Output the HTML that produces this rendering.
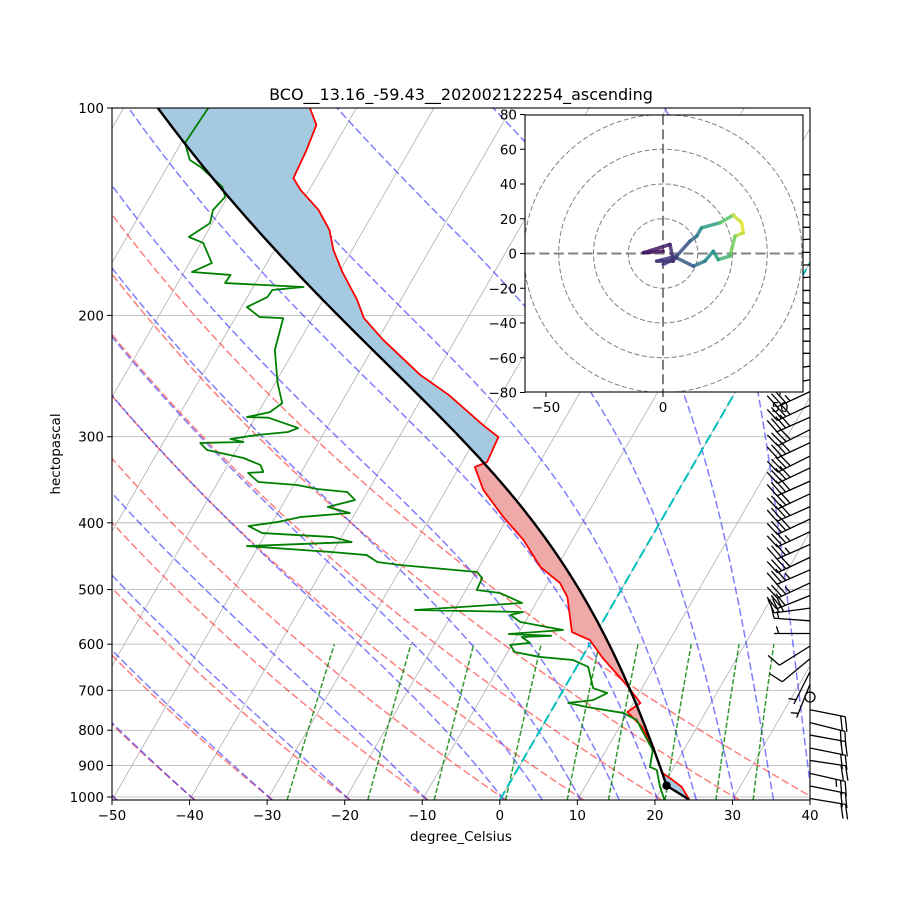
<!DOCTYPE html>
<html><head><meta charset="utf-8"><style>
html,body{margin:0;padding:0;background:#fff}
svg{display:block;font-family:"DejaVu Sans","Liberation Sans",sans-serif}
</style></head><body>
<svg id="chart" width="900" height="900" viewBox="0 0 900 900" xmlns="http://www.w3.org/2000/svg">
<defs>
<clipPath id="plotclip"><rect x="112" y="108" width="698" height="692"/></clipPath>
<clipPath id="hodoclip"><rect x="525" y="115" width="278" height="277"/></clipPath>
</defs>
<rect x="0" y="0" width="900" height="900" fill="#fff"/>
<g id="grid" clip-path="url(#plotclip)"></g>
<g id="bg" clip-path="url(#plotclip)"></g>
<g id="fills" clip-path="url(#plotclip)"></g>
<g id="profiles" clip-path="url(#plotclip)"></g>
<g id="barbs"></g>
<rect x="112" y="108" width="698" height="692" fill="none" stroke="#000" stroke-width="1.1"/>
<g id="axes"></g>
<text x="461" y="100" text-anchor="middle" font-size="16">BCO__13.16_-59.43__202002122254_ascending</text>
<text x="461" y="841" text-anchor="middle" font-size="13.5">degree_Celsius</text>
<text x="60" y="454" text-anchor="middle" font-size="13.5" transform="rotate(-90 60 454)">hectopascal</text>
<g id="hodo"></g>
</svg>
<script>
// ---- data ----
const tempP=[100,105.8,115.1,126.4,131.5,140.6,150.3,160.7,173,190,201.8,217,244,261,288.4,300.3,326.5,332,358.4,392.4,423.6,463.7,489.1,512.5,576.2,591.8,628.5,687.9,730.3,752.6,791.3,846.2,923.2,944.9,967.2,1009];
const tempT=[-76,-73.9,-73.3,-72.9,-71.1,-67.3,-64.4,-62.4,-59.6,-55.6,-53.4,-49.3,-41.9,-36.7,-30.1,-27.2,-26.8,-28.0,-25.2,-20.6,-16.3,-12.1,-8.4,-6.4,-3.2,-0.3,2.7,7.8,10.9,9.9,12.9,15.8,19.0,20.8,22.5,24.4];
const dewP=[100,112.4,119,121.8,130.2,134.6,140.6,146.9,153.9,157,167.9,173,174.7,179.5,181.9,183.7,188.1,194.5,201.1,201.8,224.5,250.6,268.1,276.3,280.9,281.5,288.5,291.4,295.3,298.3,302.3,305.3,306.3,313.6,322.1,329.7,337.5,338.6,349,352.5,357.3,360.8,370.6,379.4,387.1,392.4,399,404.4,413.9,419.5,426.6,432.3,441.1,445.5,456,460.6,471.5,481,500.7,505.7,522.9,535.3,538.9,544.3,557.2,572.3,580,583.5,585.9,597.6,601.6,615.9,626.2,632.6,647.5,694.9,706.7,723.4,730.3,740.2,755.1,773,799.4,854.7,904.5,913.4,967.2,1009];
const dewT=[-89.1,-89.5,-87.6,-85.7,-81.4,-80.3,-80.9,-80.3,-82.0,-79.7,-77.1,-79.0,-73.8,-73.9,-63.5,-67.3,-67.4,-69.3,-66.9,-63.8,-62.5,-59.7,-57.6,-58.5,-61.1,-58.3,-55.0,-53.7,-54.7,-58.5,-61.6,-59.7,-65.2,-63.8,-58.5,-55.8,-54.9,-56.8,-54.8,-49.6,-46.7,-42.6,-41.0,-44.0,-40.7,-46.8,-49.4,-52.8,-50.5,-41.1,-38.3,-51.5,-40.0,-35.4,-33.5,-30.4,-19.9,-18.8,-18.6,-15.4,-11.8,-25.1,-11.0,-12.4,-10.6,-4.5,-11.2,-5.6,-9.3,-7.8,-10.2,-9.1,-5.5,-1.0,1.5,3.7,5.9,4.6,1.6,4.3,9.4,11.7,13.1,16.0,16.9,18.0,19.7,21.2];
const barbP=[125,131,137,143,149,155,162,169,176,184,192,200,209,218,227,237,248,258,270,281,293,306,320,333,348,363,379,395,412,430,449,468,489,510,532,555,579,604,630,658,686,716,747,780,813,849,885,924,964,1005];
const barbU=[28,30,30,32,30,28,30,32,30,28,30,30,28,26,28,30,32,30,34,36,36,34,36,38,36,34,36,34,32,34,34,32,30,30,30,14,5,8,6,3,2,0,-20,-20,-22,-20,-20,-22,-20,-18];
const barbV=[0,2,0,-2,0,2,0,0,2,0,-2,0,2,0,0,4,6,14,16,16,18,16,18,18,16,16,16,16,15,15,16,14,14,12,4,-1,0,5,5,6,5,0,4,5,4,4,3,5,4,3];
const hodoU=[0.1,-8.4,3.0,4.4,-2.7,5.8,11.5,14.4,16.5,24.4,30.0,33.6,34.3,30.8,28.6,23.6,21.5,17.9,13.0,5.8,0.1];
const hodoV=[1.3,0.4,5.2,-4.4,-4.4,-1.5,7.1,10.0,14.8,17.7,22.1,17.7,11.9,10.0,-1.5,-3.5,1.3,-4.4,-7.3,-2.5,-6.3];
const hodoC=[0,0.05,0.1,0.15,0.15,0.2,0.3,0.35,0.5,0.6,0.85,1.0,0.95,0.85,0.7,0.6,0.5,0.45,0.35,0.2,0.1];
const xTicks=[-50,-40,-30,-20,-10,0,10,20,30,40];
const yTicks=[100,200,300,400,500,600,700,800,900,1000];
const hodoTicksX=[-50,0,50];
const hodoTicksY=[-80,-60,-40,-20,0,20,40,60,80];

// ---- helpers ----
const NS="http://www.w3.org/2000/svg";
const PBOT=1010.08, PTOP=100;
function yOf(p){return 108+689*Math.log10(p/100);}
function xOf(T,p){return 112+(T+50)*7.756+0.57735*(800-yOf(p));}
function mk(tag,attrs,parent){const e=document.createElementNS(NS,tag);for(const k in attrs)e.setAttribute(k,attrs[k]);parent.appendChild(e);return e;}
function pathFrom(pts){return pts.map((q,i)=>(i?'L':'M')+q[0].toFixed(2)+' '+q[1].toFixed(2)).join(' ');}
const Rd=287.04749,Lv=2.50084e6,Cp=1004.6662,EPS=0.622;
function dTdp(p,T){const Tc=T-273.15;const es=6.112*Math.exp(17.67*Tc/(Tc+243.5));const rs=EPS*es/(p-es);return (1/p)*(Rd*T+Lv*rs)/(Cp+(Lv*Lv*rs*EPS/(Rd*T*T)));}
function moist(TK,p0,p1,n){const pts=[[p0,TK]];let p=p0,T=TK;const h=(p1-p0)/n;for(let i=0;i<n;i++){const k1=dTdp(p,T),k2=dTdp(p+h/2,T+h/2*k1),k3=dTdp(p+h/2,T+h/2*k2),k4=dTdp(p+h,T+h*k3);T+=h/6*(k1+2*k2+2*k3+k4);p+=h;pts.push([p,T]);}return pts;}
function interp(p,P,T){const lp=Math.log(p);if(p<=P[0])return T[0];for(let i=1;i<P.length;i++){if(P[i]>=p){const a=Math.log(P[i-1]),b=Math.log(P[i]);const f=b===a?0:(lp-a)/(b-a);return T[i-1]+f*(T[i]-T[i-1]);}}return T[T.length-1];}

// ---- grid ----
const grid=document.getElementById('grid');
for(let T=-160;T<=40;T+=10){const l=mk('line',{x1:xOf(T,PBOT),y1:800,x2:xOf(T,PTOP),y2:108,stroke:'#b0b0b0','stroke-width':0.8},grid);

}
yTicks.forEach(p=>{const l=mk('line',{x1:112,y1:yOf(p),x2:810,y2:yOf(p),stroke:'#b0b0b0','stroke-width':0.8},grid);

});

// ---- background lines ----
const bg=document.getElementById('bg');
for(let t0=-50;t0<=40;t0+=10){const pts=[];for(let i=0;i<=80;i++){const p=PBOT*Math.pow(PTOP/PBOT,i/80);const T=(t0+273.15)*Math.pow(p/1000,0.2857)-273.15;pts.push([xOf(T,p),yOf(p)]);}
const e=mk('path',{d:pathFrom(pts),fill:'none',stroke:'rgba(255,0,0,0.5)','stroke-width':1.5,'stroke-dasharray':'7.7 3.3'},bg);

}
const moistT0=[-50,-40,-30,-20,-10,0,5,10,15,20,25,30,35,40];
moistT0.forEach(t0=>{const up=moist(t0+273.15,1000,PTOP,150),dn=moist(t0+273.15,1000,PBOT,3);const all=dn.reverse().concat(up.slice(1));
const e=mk('path',{d:pathFrom(all.map(q=>[xOf(q[1]-273.15,q[0]),yOf(q[0])])),fill:'none',stroke:'rgba(0,0,255,0.5)','stroke-width':1.5,'stroke-dasharray':'7.7 3.3'},bg);

});
[0.0004,0.001,0.002,0.004,0.007,0.01,0.016,0.024,0.032].forEach(w=>{const pts=[];for(let i=0;i<=20;i++){const p=PBOT+(600-PBOT)*i/20;const e=w*p/(EPS+w);const l=Math.log(e/6.112);const Td=243.5*l/(17.67-l);pts.push([xOf(Td,p),yOf(p)]);}
const e=mk('path',{d:pathFrom(pts),fill:'none',stroke:'rgba(0,128,0,0.8)','stroke-width':1.5,'stroke-dasharray':'5.1 2.2'},bg);

});
{const e=mk('line',{x1:xOf(0,PBOT),y1:800,x2:xOf(0,PTOP),y2:108,stroke:'#00bfbf','stroke-width':2,'stroke-dasharray':'10.3 4.4'},bg);

}

// ---- parcel ----
const n=tempP.length;const p0=tempP[n-1],T0=tempT[n-1]+273.15,Td0=dewT[dewT.length-1]+273.15;
const Tl=1/(1/(Td0-56)+Math.log(T0/Td0)/800)+56;const pl=p0*Math.pow(Tl/T0,1/0.2857);
const N=500;const gridP=[],parcel=[],envT=[];
for(let i=0;i<=N;i++)gridP.push(p0*Math.pow(PTOP/p0,i/N));
let Tm=Tl,pm=pl;
gridP.forEach(p=>{let T;if(p>=pl){T=T0*Math.pow(p/p0,0.2857);}else{const seg=moist(Tm,pm,p,4);Tm=seg[seg.length-1][1];pm=p;T=Tm;}parcel.push(T-273.15);envT.push(interp(p,tempP,tempT));});

// ---- shading ----
const fills=document.getElementById('fills');
let run=null;
function flush(){if(run&&run.env.length>1){const pts=run.env.concat(run.par.reverse());const e=mk('path',{d:pathFrom(pts)+'Z',fill:run.pos?'rgb(239,169,169)':'rgb(165,201,225)',stroke:'none'},fills);

}}
for(let i=0;i<=N;i++){const p=gridP[i],d=parcel[i]-envT[i],pos=d>0;
if(!run||run.pos!==pos){let cross=null;if(run){const dp=parcel[i-1]-envT[i-1];const f=dp/(dp-d);const pc=gridP[i-1]+f*(p-gridP[i-1]);const tc=envT[i-1]+f*(envT[i]-envT[i-1]);cross=[xOf(tc,pc),yOf(pc)];run.env.push(cross);flush();}
run={pos:pos,env:cross?[cross]:[],par:cross?[cross]:[]};}
run.env.push([xOf(envT[i],p),yOf(p)]);run.par.push([xOf(parcel[i],p),yOf(p)]);}
flush();

// ---- profiles ----
const prof=document.getElementById('profiles');
{const e=mk('path',{d:pathFrom(tempP.map((p,i)=>[xOf(tempT[i],p),yOf(p)])),fill:'none',stroke:'#ff0000','stroke-width':1.8,'stroke-linejoin':'round'},prof);

}
{const e=mk('path',{d:pathFrom(dewP.map((p,i)=>[xOf(dewT[i],p),yOf(p)])),fill:'none',stroke:'#008000','stroke-width':1.8,'stroke-linejoin':'round'},prof);

}
{const e=mk('path',{d:pathFrom(gridP.map((p,i)=>[xOf(parcel[i],p),yOf(p)])),fill:'none',stroke:'#000','stroke-width':2.4},prof);

}
{const e=mk('circle',{cx:xOf(Tl-273.15,pl),cy:yOf(pl),r:4.2,fill:'#000'},prof);

}

// ---- barbs ----
const barbs=document.getElementById('barbs');const L=36;
barbP.forEach((p,i)=>{const u=barbU[i],v=barbV[i];const x0=810,y0=yOf(p);const s=Math.hypot(u,v);const g=mk('g',{},barbs);


if(s<2.5){mk('circle',{cx:x0,cy:y0,r:5,fill:'none',stroke:'#000','stroke-width':1.3},g);return;}
const dx=-u/s,dy=-v/s;const px=dy,py=-dx;
const S=(a,b)=>[x0+a,y0-b];
const tip=S(dx*L,dy*L);mk('line',{x1:x0,y1:y0,x2:tip[0],y2:tip[1],stroke:'#000','stroke-width':1.3},g);
let r=Math.round(s/5)*5;const flags=Math.floor(r/50);r-=flags*50;const full=Math.floor(r/10);r-=full*10;const half=r>=5;
let pos=L;const sp=0.13*L,H=0.4*L,W=0.25*L;
for(let f=0;f<flags;f++){const a=S(dx*pos,dy*pos),b=S(dx*(pos+W/2)+px*H,dy*(pos+W/2)+py*H),c=S(dx*(pos-W),dy*(pos-W));mk('polygon',{points:[a,b,c].map(q=>q.join(',')).join(' '),fill:'#000'},g);pos-=W+sp;}
for(let f=0;f<full;f++){const a=S(dx*pos,dy*pos),b=S(dx*(pos+W/2)+px*H,dy*(pos+W/2)+py*H);mk('line',{x1:a[0],y1:a[1],x2:b[0],y2:b[1],stroke:'#000','stroke-width':1.3},g);pos-=sp;}
if(half){if(full===0&&flags===0)pos-=sp;const a=S(dx*pos,dy*pos),b=S(dx*(pos+W/4)+px*H/2,dy*(pos+W/4)+py*H/2);mk('line',{x1:a[0],y1:a[1],x2:b[0],y2:b[1],stroke:'#000','stroke-width':1.3},g);}
});

// ---- axes ticks ----
const axes=document.getElementById('axes');
xTicks.forEach(T=>{const x=112+(T+50)*7.756;mk('line',{x1:x,y1:800,x2:x,y2:805,stroke:'#000','stroke-width':1},axes);
const t=mk('text',{x:x,y:820,'text-anchor':'middle','font-size':13.5},axes);t.textContent=(T<0?'\u2212':'')+Math.abs(T);

});
yTicks.forEach(p=>{const y=yOf(p);mk('line',{x1:107,y1:y,x2:112,y2:y,stroke:'#000','stroke-width':1},axes);
const t=mk('text',{x:104,y:y+5,'text-anchor':'end','font-size':13.5},axes);t.textContent=p;

});

// ---- hodograph ----
const hodo=document.getElementById('hodo');
const HX=663,HY=253.5,HSX=2.34,HSY=1.7375;
mk('rect',{x:525,y:115,width:278,height:277,fill:'#fff',stroke:'none'},hodo);
const hc=mk('g',{'clip-path':'url(#hodoclip)'},hodo);
[20,40,60,80].forEach(r=>{const c=mk('circle',{cx:HX,cy:HY,r:r*HSY,fill:'none',stroke:'#808080','stroke-width':1,'stroke-dasharray':'5 2.5'},hc);

});
mk('line',{x1:525,y1:HY,x2:803,y2:HY,stroke:'#808080','stroke-width':2,'stroke-dasharray':'10 4.4'},hc);
mk('line',{x1:HX,y1:115,x2:HX,y2:392,stroke:'#808080','stroke-width':2,'stroke-dasharray':'10 4.4'},hc);
const vstops=[[68,1,84],[59,82,139],[33,145,140],[94,201,98],[253,231,37]];
function viridis(t){t=Math.max(0,Math.min(1,t))*4;const i=Math.min(3,Math.floor(t)),f=t-i;const a=vstops[i],b=vstops[i+1];return 'rgb('+a.map((c,k)=>Math.round(c+f*(b[k]-c))).join(',')+')';}
for(let i=1;i<hodoU.length;i++){const e=mk('line',{x1:HX+hodoU[i-1]*HSX,y1:HY-hodoV[i-1]*HSY,x2:HX+hodoU[i]*HSX,y2:HY-hodoV[i]*HSY,stroke:viridis((hodoC[i-1]+hodoC[i])/2),'stroke-width':3.5,'stroke-linecap':'round','stroke-opacity':0.85},hc);

}
mk('rect',{x:525,y:115,width:278,height:277,fill:'none',stroke:'#000','stroke-width':1.1},hodo);
hodoTicksX.forEach(u=>{const x=HX+u*HSX;mk('line',{x1:x,y1:392,x2:x,y2:397,stroke:'#000','stroke-width':1},hodo);
const t=mk('text',{x:x,y:412,'text-anchor':'middle','font-size':13.5},hodo);t.textContent=(u<0?'\u2212':'')+Math.abs(u);

});
hodoTicksY.forEach(v=>{const y=HY-v*HSY;mk('line',{x1:520,y1:y,x2:525,y2:y,stroke:'#000','stroke-width':1},hodo);
const t=mk('text',{x:517,y:y+5,'text-anchor':'end','font-size':13.5},hodo);t.textContent=(v<0?'\u2212':'')+Math.abs(v);

});
</script>
</body></html>
